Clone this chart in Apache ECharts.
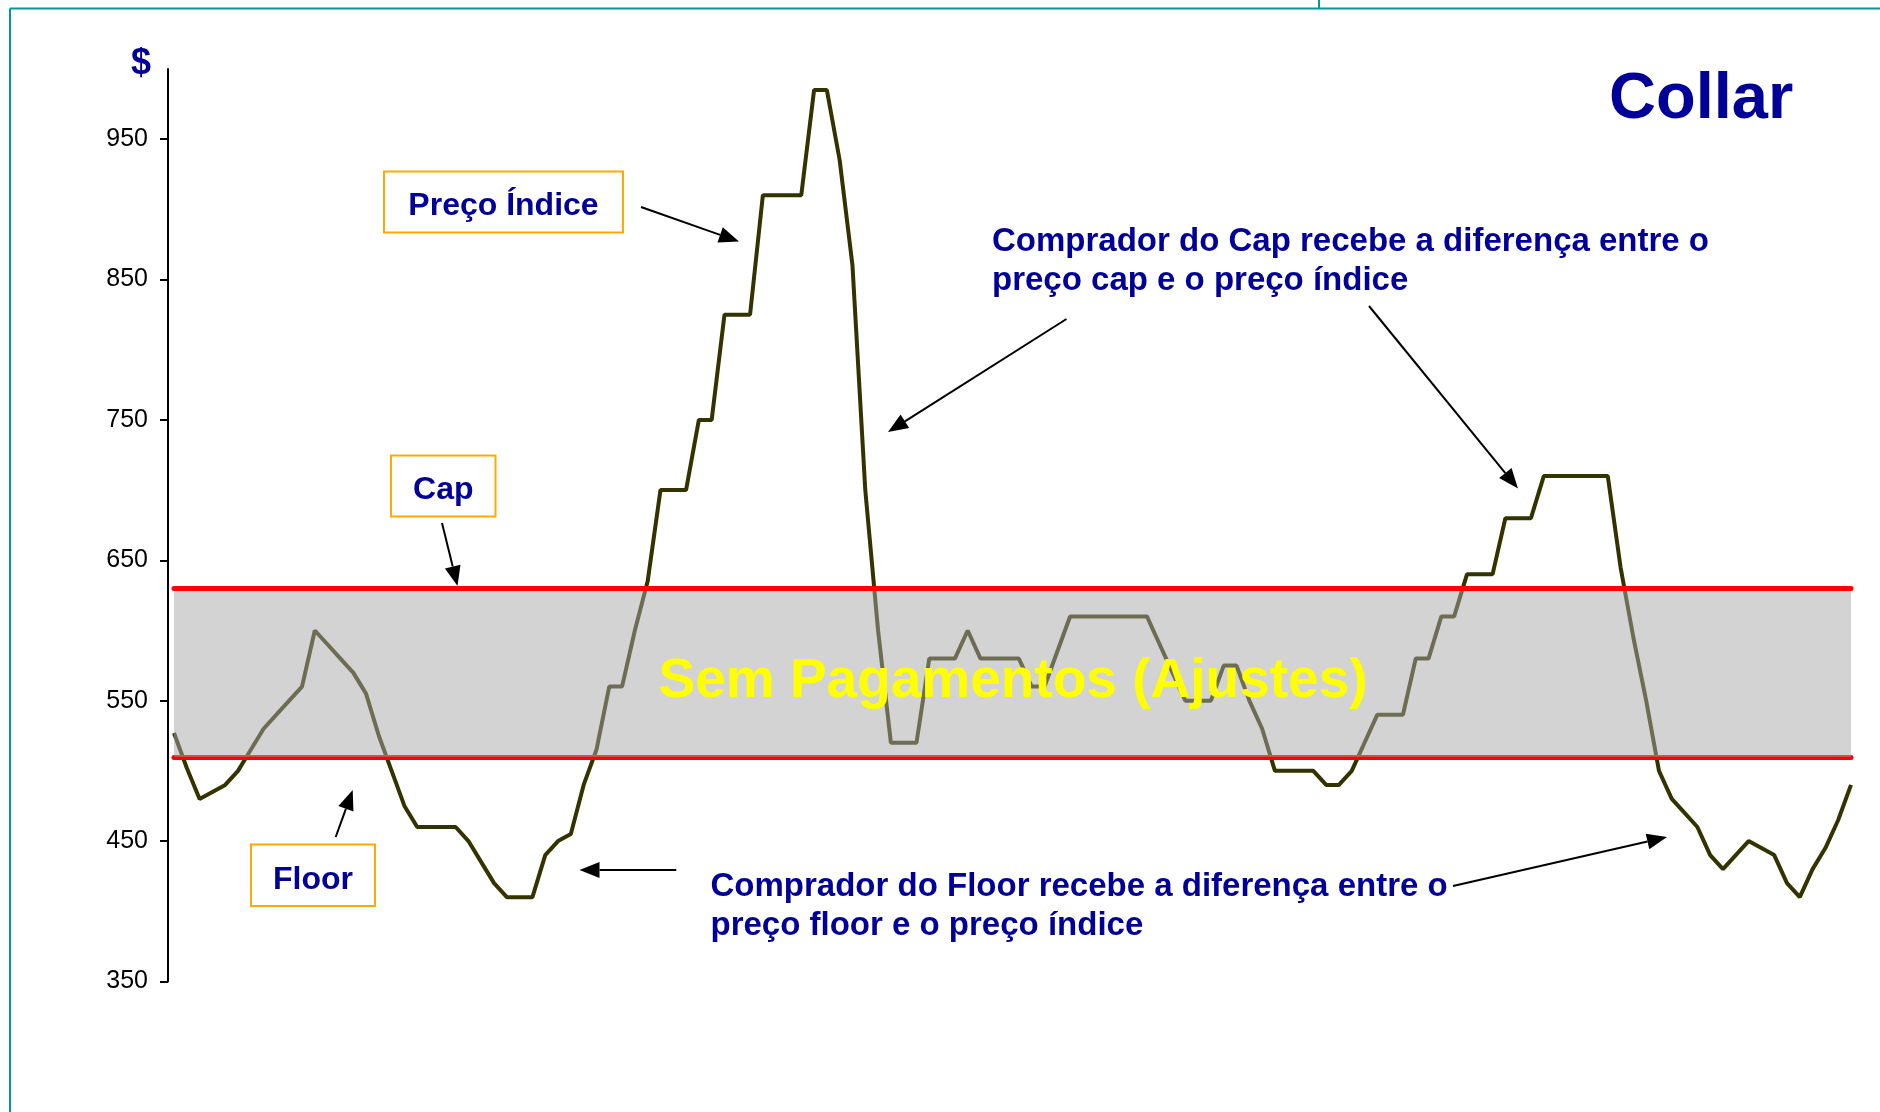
<!DOCTYPE html>
<html>
<head>
<meta charset="utf-8">
<title>Collar</title>
<script src="https://cdn.jsdelivr.net/npm/echarts@6.0.0/dist/echarts.min.js"></script>
<style>
  html, body { margin: 0; padding: 0; background: #fff; }
  #main { width: 1880px; height: 1112px; }
</style>
</head>
<body>
<div id="main"></div>
<script>
  // preço índice, um ponto por período
  var precoIndice = [
    527, 502, 480, 485, 490, 500, 515, 530, 540, 550,
    560, 600, 590, 580, 570, 555, 525, 500, 475, 460,
    460, 460, 460, 450, 435, 420, 410, 410, 410, 440,
    450, 455, 490, 515, 560, 560, 600, 635, 700, 700,
    700, 750, 750, 825, 825, 825, 910, 910, 910, 910,
    985, 985, 935, 860, 700, 600, 520, 520, 520, 580,
    580, 580, 600, 580, 580, 580, 580, 560, 560, 585,
    610, 610, 610, 610, 610, 610, 610, 590, 570, 550,
    550, 550, 575, 575, 550, 530, 500, 500, 500, 500,
    490, 490, 500, 520, 540, 540, 540, 580, 580, 610,
    610, 640, 640, 640, 680, 680, 680, 710, 710, 710,
    710, 710, 710, 645, 595, 550, 500, 480, 470, 460,
    440, 430, 440, 450, 445, 440, 420, 410, 430, 445,
    465, 490
  ];
  var periodos = precoIndice.map(function (v, i) { return String(i + 1); });
  var capValue = 630;
  var floorValue = 510;
  var yTicks = [350, 450, 550, 650, 750, 850, 950];

  var FONT = "'Liberation Sans', Arial, sans-serif";
  var NAVY = '#000099';

  function texto(str, x, y, size, color, align) {
    return {
      type: 'text', z: 100,
      style: {
        text: str, x: x, y: y, fill: color,
        font: 'bold ' + size + 'px ' + FONT,
        textAlign: align || 'left', textVerticalAlign: 'middle'
      }
    };
  }

  function caixa(str, x1, y1, x2, y2) {
    return [
      { type: 'rect', z: 90, shape: { x: x1, y: y1, width: x2 - x1, height: y2 - y1 },
        style: { fill: '#fff', stroke: '#FFAA00', lineWidth: 2 } },
      texto(str, (x1 + x2) / 2, (y1 + y2) / 2 + 4.5, 32, NAVY, 'center')
    ];
  }

  // seta preta com ponta cheia
  function seta(x1, y1, x2, y2) {
    var dx = x2 - x1, dy = y2 - y1;
    var len = Math.sqrt(dx * dx + dy * dy);
    var ux = dx / len, uy = dy / len;
    var hl = 20, hw = 8;
    var bx = x2 - ux * hl, by = y2 - uy * hl;
    return [
      { type: 'line', z: 95, shape: { x1: x1, y1: y1, x2: bx, y2: by },
        style: { stroke: '#000', lineWidth: 2 } },
      { type: 'polygon', z: 95,
        shape: { points: [[x2, y2], [bx - uy * hw, by + ux * hw], [bx + uy * hw, by - ux * hw]] },
        style: { fill: '#000' } }
    ];
  }

  var graficos = [
    // moldura
    { type: 'line', shape: { x1: 10, y1: 8.5, x2: 1880, y2: 8.5 }, style: { stroke: '#009999', lineWidth: 2 } },
    { type: 'line', shape: { x1: 10, y1: 8.5, x2: 10, y2: 1112 }, style: { stroke: '#009999', lineWidth: 2 } },
    { type: 'line', shape: { x1: 1319, y1: 0, x2: 1319, y2: 8.5 }, style: { stroke: '#009999', lineWidth: 2 } },

    texto('$', 141, 64, 36, NAVY, 'center'),
    texto('Collar', 1609, 100, 65, NAVY, 'left'),
    texto('Sem Pagamentos (Ajustes)', 1013, 682, 55, '#FFFF00', 'center'),

    texto('Comprador do Cap recebe a diferença entre o', 992, 241.5, 33, NAVY),
    texto('preço cap e o preço índice', 992, 280.5, 33, NAVY),
    texto('Comprador do Floor recebe a diferença entre o', 710.5, 887, 33, NAVY),
    texto('preço floor e o preço índice', 710.5, 926, 33, NAVY)
  ];
  graficos = graficos
    .concat(caixa('Preço Índice', 384, 171.5, 623, 232.5))
    .concat(caixa('Cap', 391, 455.5, 495.5, 516.5))
    .concat(caixa('Floor', 251, 844.5, 375, 906))
    .concat(seta(641, 207, 739, 241.5))
    .concat(seta(1066.5, 319, 888, 432))
    .concat(seta(1369, 306, 1518, 488.5))
    .concat(seta(442, 523, 457.5, 586))
    .concat(seta(335.7, 837, 352.7, 790))
    .concat(seta(676.3, 870, 579.5, 870))
    .concat(seta(1453, 886, 1667, 837));

  var myChart = echarts.init(document.getElementById('main'));
  myChart.setOption({
    animation: false,
    backgroundColor: '#fff',
    grid: { left: 174, right: 29, top: 69, bottom: 130.6, containLabel: false },
    xAxis: {
      type: 'category',
      data: periodos,
      boundaryGap: false,
      show: false
    },
    yAxis: {
      type: 'value',
      min: 350,
      max: 1000,
      offset: 6,
      axisLine: { show: true, lineStyle: { color: '#000', width: 2 } },
      axisTick: { show: true, length: 8, customValues: yTicks, lineStyle: { color: '#000', width: 2 } },
      axisLabel: { customValues: yTicks, fontSize: 25, color: '#000', margin: 20, fontFamily: FONT },
      splitLine: { show: false }
    },
    series: [
      {
        name: 'Preço Índice',
        type: 'line',
        data: precoIndice,
        symbol: 'none',
        z: 2,
        lineStyle: { color: '#333300', width: 4 }
      },
      {
        // linha do floor fica por baixo da faixa cinza
        name: 'Floor',
        type: 'line',
        data: [],
        z: 2,
        markLine: {
          silent: true,
          z: 2.5,
          symbol: ['none', 'none'],
          label: { show: false },
          lineStyle: { color: '#FF0000', width: 5, type: 'solid', cap: 'round' },
          data: [{ yAxis: floorValue }]
        }
      },
      {
        // faixa semi-transparente por cima da curva
        name: 'Faixa',
        type: 'line',
        data: [],
        z: 3,
        markArea: {
          silent: true,
          z: 3,
          itemStyle: { color: 'rgba(167,167,167,0.5)' },
          data: [[{ yAxis: floorValue }, { yAxis: capValue }]]
        }
      },
      {
        name: 'Cap',
        type: 'line',
        data: [],
        z: 5,
        markLine: {
          silent: true,
          z: 5,
          symbol: ['none', 'none'],
          label: { show: false },
          lineStyle: { color: '#FF0000', width: 5, type: 'solid', cap: 'round' },
          data: [{ yAxis: capValue }]
        }
      }
    ],
    graphic: graficos
  });
</script>
</body>
</html>
